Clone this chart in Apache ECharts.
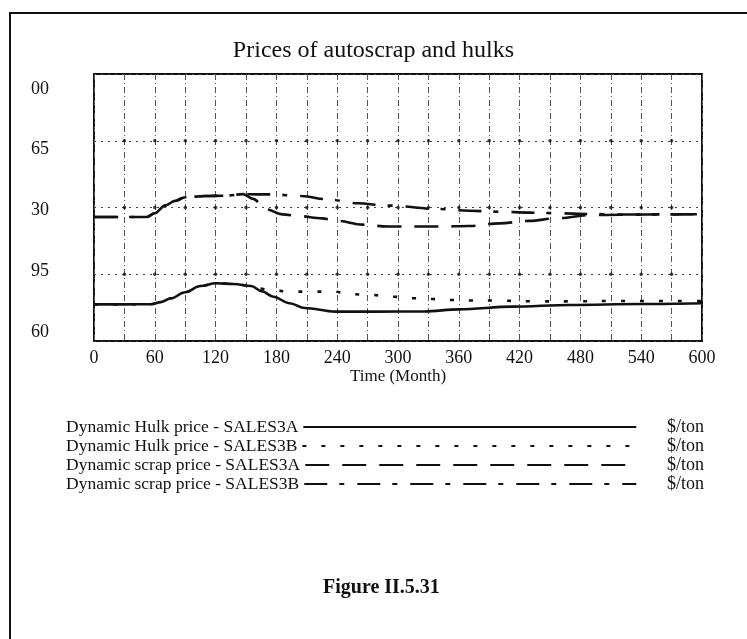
<!DOCTYPE html>
<html>
<head>
<meta charset="utf-8">
<script src="https://cdn.jsdelivr.net/npm/echarts@6/dist/echarts.min.js"></script>
<style>
  html, body { margin: 0; padding: 0; background: #fff; }
  #chart { width: 747px; height: 639px; }
</style>
</head>
<body>
<div id="chart"></div>
<script>
// Time axis (months) and printed tick values
const xTicks = [0, 60, 120, 180, 240, 300, 360, 420, 480, 540, 600];
const yTicks = [60, 95, 130, 165, 200];
const yTickLabels = ['60', '95', '30', '65', '00'];
const gridDotMonths = [30, 60, 90, 120, 150, 180, 210, 240, 270, 300, 330, 360, 390, 420, 450, 480, 510, 540, 570];
const gridDotValues = [95, 130, 165];

// Dynamic Hulk price
const hulkMonthsA = [0, 30, 56, 66, 76, 90, 105, 120, 138, 155, 166, 177, 193, 208, 238, 280, 326, 360, 413, 470, 540, 600];
const hulkPriceA  = [79.2, 79.2, 79.3, 80.4, 82.4, 85.6, 88.8, 90.3, 89.9, 88.8, 86.0, 83.2, 79.8, 77.3, 75.4, 75.4, 75.5, 76.6, 78.0, 78.9, 79.4, 79.8];
const hulkMonthsB = [0, 30, 56, 66, 76, 90, 105, 120, 138, 155, 163, 173, 194, 216, 236, 256, 275, 295, 315, 334, 354, 374, 394, 433, 472, 514, 575, 600];
const hulkPriceB  = [79.2, 79.2, 79.3, 80.4, 82.4, 85.6, 88.8, 90.3, 89.9, 88.8, 87.6, 86.7, 85.9, 85.9, 85.9, 84.5, 84.1, 83.2, 82.4, 82.0, 81.5, 81.2, 81.2, 80.8, 80.8, 81.0, 81.0, 81.0];

// Dynamic scrap price
const scrapMonthsA = [0, 30, 52, 60, 70, 80, 90, 110, 130, 147, 157, 170, 186, 202, 225, 240, 265, 290, 340, 370, 400, 430, 456, 490, 520, 570, 600];
const scrapPriceA  = [125, 125, 125, 127, 131, 133.5, 135.4, 136, 136.2, 137, 134.5, 129, 126.4, 125.5, 124.3, 123, 121, 120, 120, 120.3, 121.7, 123, 124.3, 126, 126.2, 126.4, 126.5];
const scrapMonthsB = [0, 30, 52, 60, 70, 80, 90, 110, 130, 147, 160, 175, 205, 230, 260, 290, 340, 370, 400, 430, 456, 490, 520, 570, 600];
const scrapPriceB  = [125, 125, 125, 127, 131, 133.5, 135.4, 136, 136.2, 137, 136.9, 136.9, 136, 134.3, 132.2, 131, 129.2, 128.3, 127.8, 127.3, 127, 126.6, 126.3, 126.4, 126.5];

const seriesNames = [
  'Dynamic Hulk price - SALES3A',
  'Dynamic Hulk price - SALES3B',
  'Dynamic scrap price - SALES3A',
  'Dynamic scrap price - SALES3B'
];
const unitLabel = '$/ton';

const pair = (xs, ys) => xs.map((x, i) => [x, ys[i]]);
const FONT = '"Liberation Serif", "DejaVu Serif", serif';
const INK = '#111';
const LEGEND_FONT_SIZE = 17.5;
const LEGEND_LEFT = 66;
const LEGEND_TOP = 418;
const LEGEND_ROW = 19;
const LEGEND_LINE_END = 636;

// width of a legend caption, so every key line can stop at the same x
const measureCtx = document.createElement('canvas').getContext('2d');
measureCtx.font = LEGEND_FONT_SIZE + 'px ' + FONT;
const textWidth = s => measureCtx.measureText(s).width;

const chart = echarts.init(document.getElementById('chart'), null, { renderer: 'canvas' });

function priceLine(name, xs, ys, dash) {
  return {
    name: name,
    type: 'line',
    xAxisIndex: 0,
    yAxisIndex: 0,
    data: pair(xs, ys),
    smooth: 0.35,
    smoothMonotone: 'x',
    symbol: 'none',
    lineStyle: { color: INK, width: 2.6, type: dash, cap: 'butt' },
    z: 5
  };
}

const dotPoints = [];
gridDotValues.forEach(v => gridDotMonths.forEach(m => dotPoints.push([m, v])));

const legends = seriesNames.map((name, i) => ({
  orient: 'horizontal',
  left: LEGEND_LEFT,
  top: LEGEND_TOP + i * LEGEND_ROW,
  align: 'right',
  itemWidth: Math.round(LEGEND_LINE_END - LEGEND_LEFT - textWidth(name) - 5),
  itemHeight: 12,
  padding: 0,
  selectedMode: false,
  itemStyle: { opacity: 0 },
  data: [name],
  textStyle: { fontFamily: FONT, fontSize: LEGEND_FONT_SIZE, lineHeight: 18, color: INK }
}));

chart.setOption({
  animation: false,
  backgroundColor: '#fff',
  title: [
    {
      text: 'Prices of autoscrap and hulks',
      left: 'center',
      top: 34,
      textStyle: { fontFamily: FONT, fontSize: 24, fontWeight: 'normal', color: INK }
    },
    {
      text: 'Figure II.5.31',
      left: 318,
      top: 573,
      textStyle: { fontFamily: FONT, fontSize: 20, fontWeight: 'bold', color: INK }
    }
  ],
  graphic: [
    {
      type: 'rect',
      shape: { x: 10, y: 13, width: 800, height: 700 },
      style: { fill: 'none', stroke: INK, lineWidth: 2 },
      silent: true,
      z: 0
    }
  ].concat([0, 1, 2, 3].map(i => ({
    type: 'text',
    left: 667,
    top: LEGEND_TOP + i * LEGEND_ROW,
    style: { text: unitLabel, font: '18px ' + FONT, fill: INK },
    silent: true
  }))),
  legend: legends,
  grid: [
    {
      left: 94, top: 74, width: 608, height: 267,
      show: true, borderColor: INK, borderWidth: 2, backgroundColor: 'transparent'
    },
    { left: 94, top: 89, width: 608, height: 243, show: false }
  ],
  xAxis: [
    {
      type: 'value',
      gridIndex: 0,
      min: xTicks[0],
      max: xTicks[xTicks.length - 1],
      interval: 60,
      name: 'Time (Month)',
      nameLocation: 'middle',
      nameGap: 23,
      nameTextStyle: { fontFamily: FONT, fontSize: 17, color: INK },
      axisLine: { show: false },
      axisTick: { show: false },
      axisLabel: { margin: 8, fontFamily: FONT, fontSize: 18, color: INK },
      splitLine: { show: true, lineStyle: { color: '#555', width: 1, type: [6, 3, 1, 3] } },
      minorTick: { show: false, splitNumber: 2 },
      minorSplitLine: { show: true, lineStyle: { color: '#555', width: 1, type: [6, 3, 1, 3] } }
    },
    {
      type: 'value',
      gridIndex: 1,
      min: 0,
      max: 600,
      show: false
    }
  ],
  yAxis: [
    {
      type: 'value',
      gridIndex: 0,
      min: yTicks[0],
      max: yTicks[yTicks.length - 1],
      interval: 35,
      axisLine: { show: false },
      axisTick: { show: false },
      axisLabel: { show: false },
      splitLine: { show: true, lineStyle: { color: '#444', width: 1, type: [2, 5] } }
    },
    {
      // printed value labels of the price scale
      type: 'value',
      gridIndex: 1,
      min: yTicks[0],
      max: yTicks[yTicks.length - 1],
      interval: 35,
      axisLine: { show: false },
      axisTick: { show: false },
      splitLine: { show: false },
      axisLabel: {
        margin: 45,
        fontFamily: FONT,
        fontSize: 18,
        color: INK,
        formatter: v => yTickLabels[yTicks.indexOf(v)] || ''
      }
    }
  ],
  series: [
    priceLine(seriesNames[0], hulkMonthsA, hulkPriceA, 'solid'),
    priceLine(seriesNames[1], hulkMonthsB, hulkPriceB, [4, 15]),
    priceLine(seriesNames[2], scrapMonthsA, scrapPriceA, [24, 13]),
    priceLine(seriesNames[3], scrapMonthsB, scrapPriceB, [23, 12, 5, 13]),
    {
      name: 'grid marks',
      type: 'scatter',
      xAxisIndex: 0,
      yAxisIndex: 0,
      data: dotPoints,
      symbol: 'circle',
      symbolSize: 3.5,
      itemStyle: { color: INK },
      silent: true,
      z: 3
    }
  ]
});
</script>
</body>
</html>
